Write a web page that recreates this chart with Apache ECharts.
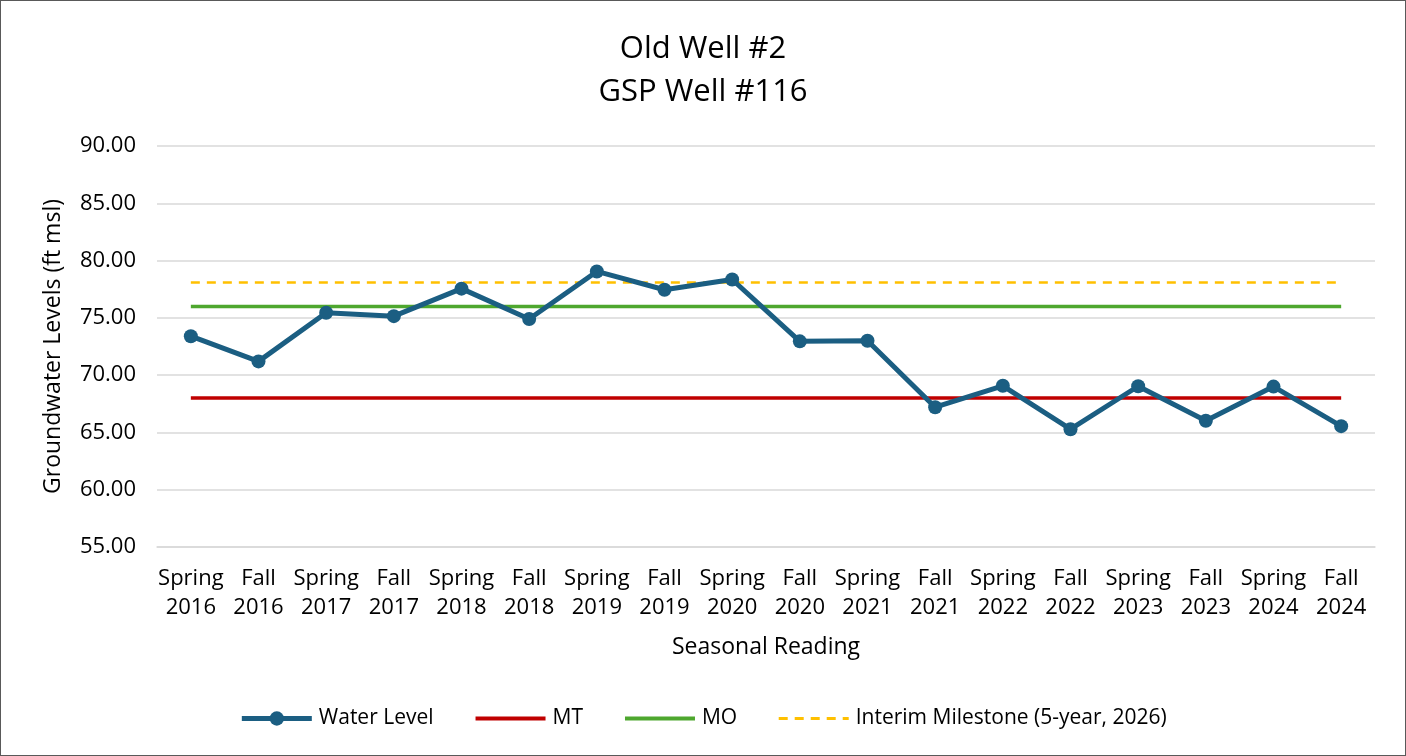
<!DOCTYPE html>
<html>
<head>
<meta charset="utf-8">
<script src="https://cdn.jsdelivr.net/npm/echarts@6/dist/echarts.min.js"></script>
<style>
  html, body { margin: 0; padding: 0; background: #fff; }
  #chart { width: 1406px; height: 756px; box-sizing: border-box; border: 1px solid #595959; }
</style>
</head>
<body>
<div id="chart"></div>
<script>
const categories = [
  'Spring\n2016', 'Fall\n2016', 'Spring\n2017', 'Fall\n2017', 'Spring\n2018', 'Fall\n2018',
  'Spring\n2019', 'Fall\n2019', 'Spring\n2020', 'Fall\n2020', 'Spring\n2021', 'Fall\n2021',
  'Spring\n2022', 'Fall\n2022', 'Spring\n2023', 'Fall\n2023', 'Spring\n2024', 'Fall\n2024'
]
const waterLevel = [73.4, 71.2, 75.45, 75.15, 77.55, 74.9, 79.05, 77.45, 78.35, 72.95, 73.0, 67.2,
  69.07, 65.28, 69.03, 66.02, 69.0, 65.55]
const mtValue = 68
const moValue = 76
const interimValue = 78.08
const yTicks = { min: 55, max: 90, step: 5 }

const font = '"Open Sans", "Liberation Sans", sans-serif'
const chart = echarts.init(document.getElementById('chart'))

const option = {
  animation: false,
  textStyle: { fontFamily: font },
  title: {
    text: 'Old Well #2\nGSP Well #116',
    left: 'center',
    top: 22,
    textStyle: { fontFamily: font, fontSize: 31, fontWeight: 'normal', color: '#000', lineHeight: 43 }
  },
  legend: {
    bottom: 21,
    left: 'center',
    itemWidth: 70,
    itemHeight: 18,
    itemGap: 40,
    textStyle: { fontFamily: font, fontSize: 21, color: '#000', padding: [0, 0, 0, 2] },
    data: [
      { name: 'Water Level', lineStyle: { width: 5 } },
      { name: 'MT', itemStyle: { opacity: 0 }, lineStyle: { width: 4 } },
      { name: 'MO', itemStyle: { opacity: 0 }, lineStyle: { width: 4 } },
      { name: 'Interim Milestone (5-year, 2026)', itemStyle: { opacity: 0 }, lineStyle: { width: 3 } }
    ]
  },
  grid: { left: 156, right: 30, top: 145, bottom: 208 },
  xAxis: {
    type: 'category',
    data: categories,
    boundaryGap: true,
    name: 'Seasonal Reading',
    nameLocation: 'middle',
    nameGap: 89,
    nameTextStyle: { fontFamily: font, fontSize: 23, color: '#000' },
    axisLine: { lineStyle: { color: '#d9d9d9', width: 1.5 } },
    axisTick: { show: false },
    axisLabel: { color: '#000', fontSize: 22, lineHeight: 29, interval: 0, margin: 17, fontFamily: font }
  },
  yAxis: {
    type: 'value',
    min: yTicks.min,
    max: yTicks.max,
    interval: yTicks.step,
    name: 'Groundwater Levels (ft msl)',
    nameLocation: 'middle',
    nameGap: 92,
    nameTextStyle: { fontFamily: font, fontSize: 23, color: '#000' },
    axisLine: { show: false },
    axisTick: { show: false },
    axisLabel: { color: '#000', fontSize: 22, margin: 21, fontFamily: font, formatter: v => v.toFixed(2) },
    splitLine: { lineStyle: { color: '#d9d9d9', width: 1.5 } }
  },
  series: [
    {
      name: 'MT',
      type: 'line',
      data: categories.map(() => mtValue),
      symbol: 'none',
      lineStyle: { color: '#c00000', width: 3.5 },
      itemStyle: { color: '#c00000' },
      z: 2
    },
    {
      name: 'MO',
      type: 'line',
      data: categories.map(() => moValue),
      symbol: 'none',
      lineStyle: { color: '#4ea72e', width: 3.5 },
      itemStyle: { color: '#4ea72e' },
      z: 2
    },
    {
      name: 'Interim Milestone (5-year, 2026)',
      type: 'line',
      data: categories.map(() => interimValue),
      symbol: 'none',
      lineStyle: { color: '#ffc000', width: 2.5, type: [9, 7] },
      itemStyle: { color: '#ffc000' },
      z: 2
    },
    {
      name: 'Water Level',
      type: 'line',
      data: waterLevel,
      symbol: 'circle',
      symbolSize: 14,
      lineStyle: { color: '#1b5e82', width: 5 },
      itemStyle: { color: '#1b5e82' },
      z: 3
    }
  ]
}
chart.setOption(option)
</script>
</body>
</html>
